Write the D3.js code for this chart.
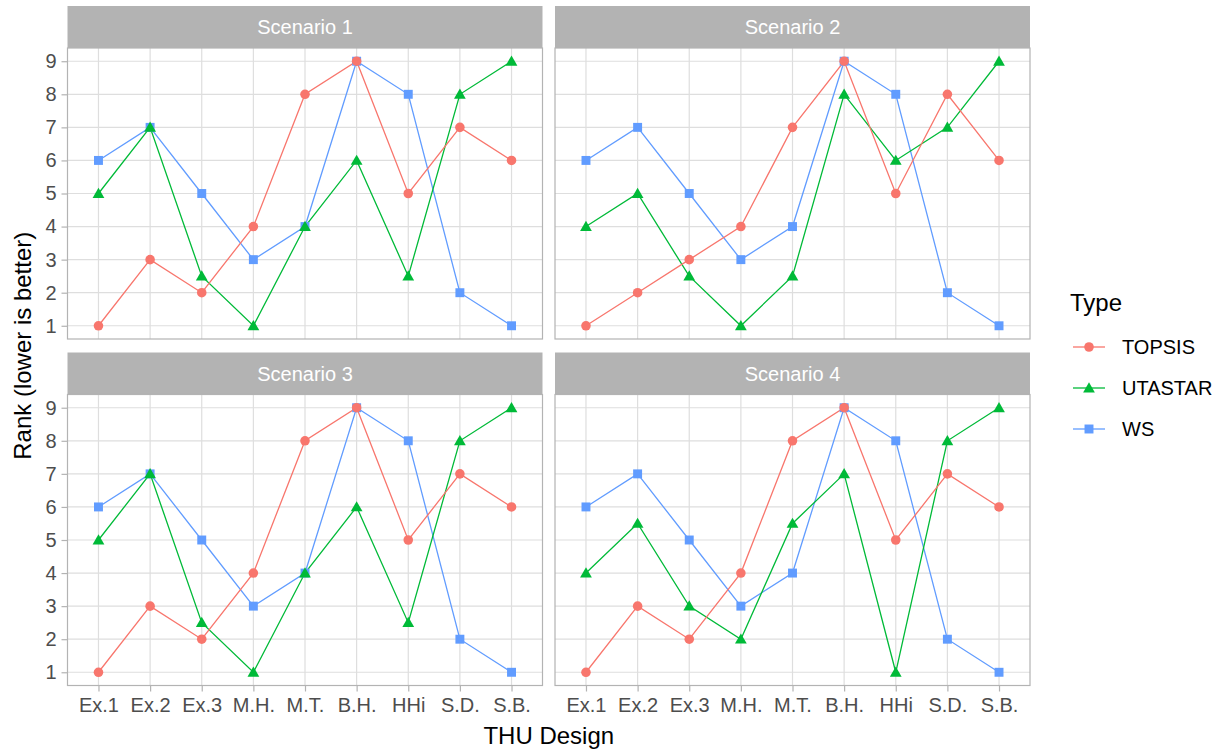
<!DOCTYPE html>
<html>
<head>
<meta charset="utf-8">
<script src="https://cdn.jsdelivr.net/npm/d3@7"></script>
<style>
  body { margin: 0; background: #fff; }
  svg { display: block; font-family: "Liberation Sans", Arial, sans-serif; }
</style>
</head>
<body>
<svg id="chart" width="1225" height="753"></svg>
<script>
// ---- data ----
const categories = ["Ex.1", "Ex.2", "Ex.3", "M.H.", "M.T.", "B.H.", "HHi", "S.D.", "S.B."];
const scenarios = ["Scenario 1", "Scenario 2", "Scenario 3", "Scenario 4"];
const types = ["TOPSIS", "UTASTAR", "WS"];
const yTicks = [1, 2, 3, 4, 5, 6, 7, 8, 9];

const topsis1  = [1, 3, 2, 4, 8, 9, 5, 7, 6];
const utastar1 = [5, 7, 2.5, 1, 4, 6, 2.5, 8, 9];
const ws1      = [6, 7, 5, 3, 4, 9, 8, 2, 1];

const topsis2  = [1, 2, 3, 4, 7, 9, 5, 8, 6];
const utastar2 = [4, 5, 2.5, 1, 2.5, 8, 6, 7, 9];
const ws2      = [6, 7, 5, 3, 4, 9, 8, 2, 1];

const topsis3  = [1, 3, 2, 4, 8, 9, 5, 7, 6];
const utastar3 = [5, 7, 2.5, 1, 4, 6, 2.5, 8, 9];
const ws3      = [6, 7, 5, 3, 4, 9, 8, 2, 1];

const topsis4  = [1, 3, 2, 4, 8, 9, 5, 7, 6];
const utastar4 = [4, 5.5, 3, 2, 5.5, 7, 1, 8, 9];
const ws4      = [6, 7, 5, 3, 4, 9, 8, 2, 1];

const seriesByScenario = [
  [topsis1, utastar1, ws1],
  [topsis2, utastar2, ws2],
  [topsis3, utastar3, ws3],
  [topsis4, utastar4, ws4]
];

// ---- style ----
const colors = { TOPSIS: "#F8766D", UTASTAR: "#00BA38", WS: "#619CFF" };
const shapes = { TOPSIS: d3.symbolCircle, UTASTAR: d3.symbolTriangle, WS: d3.symbolSquare };
const shapeSize = { TOPSIS: 72, UTASTAR: 60, WS: 80 };

const svg = d3.select("#chart");

const panelW = 475, stripH = 42, panelH = 291;
const colX = [67.5, 555];
const rowY = [6, 352.5];

const x = d3.scalePoint().domain(categories).padding(0.6);
const y = d3.scaleLinear().domain([0.6, 9.4]);

scenarios.forEach((scen, i) => {
  const col = i % 2, row = Math.floor(i / 2);
  const px = colX[col], sy = rowY[row], py = sy + stripH;
  const g = svg.append("g");

  const xs = x.copy().range([px, px + panelW]);
  const ys = y.copy().range([py + panelH, py]);

  // strip
  g.append("rect").attr("x", px).attr("y", sy).attr("width", panelW).attr("height", stripH)
    .attr("fill", "#B3B3B3");
  g.append("text").attr("x", px + panelW / 2).attr("y", sy + stripH / 2)
    .attr("dy", "0.35em").attr("text-anchor", "middle")
    .attr("fill", "#ffffff").style("font-size", "20px").text(scen);

  // grid
  g.selectAll(".gy").data(yTicks).enter().append("line")
    .attr("x1", px).attr("x2", px + panelW)
    .attr("y1", d => ys(d)).attr("y2", d => ys(d))
    .attr("stroke", "#DEDEDE").attr("stroke-width", 1.2);
  g.selectAll(".gx").data(categories).enter().append("line")
    .attr("x1", d => xs(d)).attr("x2", d => xs(d))
    .attr("y1", py).attr("y2", py + panelH)
    .attr("stroke", "#DEDEDE").attr("stroke-width", 1.2);

  // border
  g.append("rect").attr("x", px).attr("y", py).attr("width", panelW).attr("height", panelH)
    .attr("fill", "none").attr("stroke", "#B3B3B3").attr("stroke-width", 1.2);

  // axes
  if (col === 0) {
    const ax = g.append("g").attr("transform", `translate(${px},0)`)
      .call(d3.axisLeft(ys).tickValues(yTicks).tickSize(6).tickPadding(5).tickFormat(d3.format("d")));
    ax.select(".domain").remove();
    ax.selectAll(".tick line").attr("stroke", "#B3B3B3").attr("stroke-width", 1.2);
    ax.selectAll(".tick text").attr("fill", "#4D4D4D").style("font-size", "20px")
      .style("font-family", "Liberation Sans, Arial, sans-serif");
  }
  if (row === 1) {
    const ax = g.append("g").attr("transform", `translate(0,${py + panelH})`)
      .call(d3.axisBottom(xs).tickSize(6).tickPadding(6));
    ax.select(".domain").remove();
    ax.selectAll(".tick line").attr("stroke", "#B3B3B3").attr("stroke-width", 1.2);
    ax.selectAll(".tick text").attr("fill", "#4D4D4D").style("font-size", "20px")
      .style("font-family", "Liberation Sans, Arial, sans-serif");
  }

  // series (draw WS first so others sit on top)
  const series = seriesByScenario[i];
  const order = [2, 1, 0];
  const line = d3.line().x((d, k) => xs(categories[k])).y(d => ys(d));
  order.forEach(t => {
    g.append("path").datum(series[t]).attr("d", line)
      .attr("fill", "none").attr("stroke", colors[types[t]]).attr("stroke-width", 1.3);
  });
  order.forEach(t => {
    const tp = types[t];
    g.selectAll(null).data(series[t]).enter().append("path")
      .attr("d", d3.symbol().type(shapes[tp]).size(shapeSize[tp]))
      .attr("transform", (d, k) => `translate(${xs(categories[k])},${ys(d) + (tp === "UTASTAR" ? 1 : 0)})`)
      .attr("fill", colors[tp]);
  });
});

// axis titles
svg.append("text").attr("x", (colX[0] + colX[1] + panelW) / 2).attr("y", 744)
  .attr("text-anchor", "middle").attr("fill", "#000").style("font-size", "24px").text("THU Design");
svg.append("text").attr("transform", `translate(31,${(rowY[0] + rowY[1] + stripH + panelH) / 2}) rotate(-90)`)
  .attr("text-anchor", "middle").attr("fill", "#000").style("font-size", "24px").text("Rank (lower is better)");

// legend
const lg = svg.append("g");
lg.append("text").attr("x", 1070).attr("y", 311).attr("fill", "#000").style("font-size", "24px").text("Type");
types.forEach((tp, j) => {
  const cy = 347 + j * 41;
  lg.append("line").attr("x1", 1073).attr("x2", 1105).attr("y1", cy).attr("y2", cy)
    .attr("stroke", colors[tp]).attr("stroke-width", 1.3);
  lg.append("path").attr("d", d3.symbol().type(shapes[tp]).size(shapeSize[tp]))
    .attr("transform", `translate(1089,${cy + (tp === "UTASTAR" ? 1 : 0)})`).attr("fill", colors[tp]);
  lg.append("text").attr("x", 1122).attr("y", cy).attr("dy", "0.35em")
    .attr("fill", "#000").style("font-size", "20px").text(tp);
});
</script>
</body>
</html>
